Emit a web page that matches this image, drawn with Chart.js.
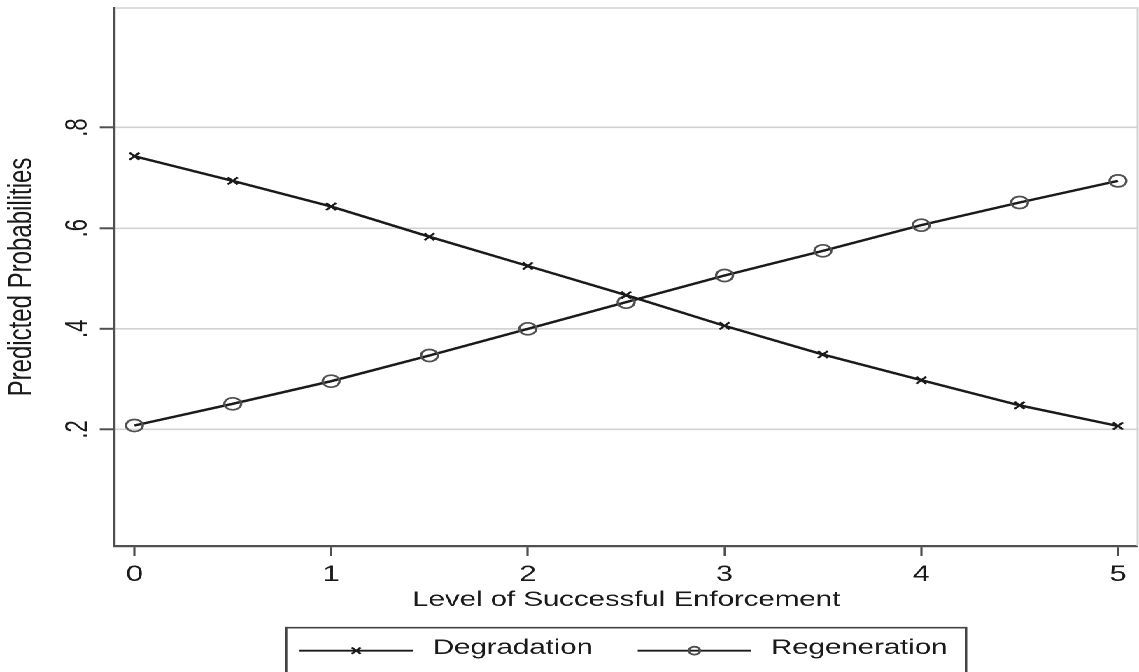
<!DOCTYPE html>
<html>
<head>
<meta charset="utf-8">
<script src="https://cdn.jsdelivr.net/npm/chart.js@4.4.1/dist/chart.umd.min.js"></script>
<style>
html, body { margin: 0; padding: 0; background: #ffffff; overflow: hidden; width: 1139px; height: 672px; }
#wrap { position: absolute; left: 0; top: 0; width: 814px; height: 672px; transform: scaleX(1.399263); transform-origin: 0 0; background: #ffffff; }
#c { display: block; width: 814px; height: 672px; }
</style>
</head>
<body>
<div id="wrap"><canvas id="c" width="814" height="672"></canvas></div>
<script>
// ---- data ----
const enforcementLevels = [0, 0.5, 1, 1.5, 2, 2.5, 3, 3.5, 4, 4.5, 5];
const degradation  = [0.743, 0.694, 0.643, 0.583, 0.525, 0.467, 0.406, 0.349, 0.298, 0.248, 0.207];
const regeneration = [0.208, 0.251, 0.296, 0.347, 0.400, 0.453, 0.506, 0.555, 0.606, 0.651, 0.694];
const seriesNames = ['Degradation', 'Regeneration'];
const xTickValues = [0, 1, 2, 3, 4, 5];
const xTickLabels = ['0', '1', '2', '3', '4', '5'];
const yTickValues = [0.2, 0.4, 0.6, 0.8];
const yTickLabels = ['.2', '.4', '.6', '.8'];
const xAxisTitle = 'Level of Successful Enforcement';
const yAxisTitle = 'Predicted Probabilities';

// ---- style ----
const FONT = '"Liberation Sans", Arial, Helvetica, sans-serif';
const INK = '#1a1a1a';
const AXIS = '#505050';
const GRID = '#d2d2d2';

const framePlugin = {
  id: 'frame',
  beforeDatasetsDraw(chart) {
    const { ctx, chartArea: a } = chart;
    ctx.save();
    ctx.strokeStyle = GRID;
    ctx.lineWidth = 1.5;
    ctx.beginPath();
    ctx.moveTo(a.left, a.top);
    ctx.lineTo(a.right, a.top);
    ctx.lineTo(a.right, a.bottom);
    ctx.stroke();
    ctx.restore();
  }
};

function drawMarker(ctx, style, radius, bw, x, y) {
  if (Chart.helpers && Chart.helpers.drawPoint) {
    Chart.helpers.drawPoint(ctx, { pointStyle: style, rotation: 0, radius: radius, borderWidth: bw }, x, y);
    return;
  }
  ctx.lineWidth = bw;
  ctx.beginPath();
  if (style === 'circle') {
    ctx.arc(x, y, radius, 0, Math.PI * 2);
  } else {
    const d = radius * Math.SQRT1_2;
    ctx.moveTo(x - d, y - d); ctx.lineTo(x + d, y + d);
    ctx.moveTo(x - d, y + d); ctx.lineTo(x + d, y - d);
  }
  ctx.stroke();
}

const boxLegendPlugin = {
  id: 'boxLegend',
  afterDraw(chart) {
    const { ctx, chartArea: a } = chart;
    const fontSize = 21;
    const lineLen = 81, lineGap = 14.3, padL = 9.5, padR = 13.3, itemGap = 32;
    ctx.save();
    ctx.font = fontSize + 'px ' + FONT;
    const items = chart.data.datasets.map(ds => ({ ds: ds, w: ctx.measureText(ds.label).width }));
    let total = padL + padR + itemGap * (items.length - 1);
    items.forEach(it => { total += lineLen + lineGap + it.w; });
    const cx = (a.left + a.right) / 2;
    const left = cx - total / 2;
    const top = chart.scales.x.bottom + 0.7;
    ctx.strokeStyle = '#444444';
    ctx.lineWidth = 1.6;
    ctx.beginPath();
    ctx.moveTo(left, chart.height + 5);
    ctx.lineTo(left, top);
    ctx.lineTo(left + total, top);
    ctx.lineTo(left + total, chart.height + 5);
    ctx.stroke();
    let x = left + padL;
    const ly = top + 23;
    const ty = top + 20.3;
    items.forEach((it) => {
      const ds = it.ds;
      ctx.strokeStyle = INK;
      ctx.lineWidth = 1.8;
      ctx.beginPath();
      ctx.moveTo(x, ly);
      ctx.lineTo(x + lineLen, ly);
      ctx.stroke();
      ctx.strokeStyle = ds.pointBorderColor;
      ctx.fillStyle = 'rgba(0,0,0,0)';
      drawMarker(ctx, ds.pointStyle, ds.pointStyle === 'circle' ? 4 : 4.5, 1.5, x + lineLen / 2, ly);
      ctx.fillStyle = INK;
      ctx.textBaseline = 'middle';
      ctx.textAlign = 'left';
      ctx.fillText(ds.label, x + lineLen + lineGap, ty);
      x += lineLen + lineGap + it.w + itemGap;
    });
    ctx.restore();
  }
};

const toPoints = (ys) => enforcementLevels.map((x, i) => ({ x: x, y: ys[i] }));

new Chart(document.getElementById('c'), {
  type: 'line',
  data: {
    datasets: [
      {
        label: seriesNames[0],
        data: toPoints(degradation),
        borderColor: INK,
        borderWidth: 2.4,
        tension: 0,
        fill: false,
        pointStyle: 'crossRot',
        pointRadius: 5,
        pointBorderWidth: 1.8,
        pointBorderColor: INK,
        pointBackgroundColor: INK
      },
      {
        label: seriesNames[1],
        data: toPoints(regeneration),
        borderColor: INK,
        borderWidth: 2.4,
        tension: 0,
        fill: false,
        pointStyle: 'circle',
        pointRadius: 6,
        pointBorderWidth: 1.7,
        pointBorderColor: '#505050',
        pointBackgroundColor: 'rgba(0,0,0,0)'
      }
    ]
  },
  options: {
    responsive: false,
    maintainAspectRatio: false,
    animation: false,
    devicePixelRatio: 2,
    layout: { autoPadding: false, padding: { top: 8, right: 1, bottom: 45, left: 0 } },
    plugins: {
      legend: { display: false },
      tooltip: { enabled: false }
    },
    scales: {
      x: {
        type: 'linear',
        min: -0.1,
        max: 5.1,
        afterBuildTicks: (s) => { s.ticks = xTickValues.map(v => ({ value: v })); },
        afterFit: (s) => { s.height = 81; s.paddingLeft = 0; s.paddingRight = 0; },
        grid: { drawOnChartArea: false, drawTicks: true, tickLength: 10, tickColor: AXIS, tickWidth: 1.6 },
        border: { display: true, color: AXIS, width: 2.2 },
        ticks: {
          color: INK,
          font: { family: FONT, size: 22 },
          padding: 5.8,
          maxRotation: 0,
          autoSkip: false,
          callback: (v, i) => xTickLabels[i]
        },
        title: {
          display: true,
          text: xAxisTitle,
          color: INK,
          font: { family: FONT, size: 21 },
          padding: { top: 0, bottom: 14.4 }
        }
      },
      y: {
        type: 'linear',
        min: -0.0315,
        max: 1.0375,
        afterBuildTicks: (s) => { s.ticks = yTickValues.map(v => ({ value: v })); },
        afterFit: (s) => { s.width = 82; s.paddingTop = 0; s.paddingBottom = 0; },
        grid: { color: GRID, lineWidth: 1.6, drawTicks: true, tickLength: 10.7, tickColor: AXIS, tickWidth: 2 },
        border: { display: true, color: AXIS, width: 1.6 },
        ticks: {
          color: INK,
          font: { family: FONT, size: 22 },
          padding: 6.4,
          minRotation: 90,
          maxRotation: 90,
          crossAlign: 'center',
          autoSkip: false,
          callback: (v, i) => yTickLabels[i]
        },
        title: {
          display: true,
          text: yAxisTitle,
          color: INK,
          font: { family: FONT, size: 24 },
          padding: { top: 1.3, bottom: 0 }
        }
      }
    }
  },
  plugins: [framePlugin, boxLegendPlugin]
});
</script>
</body>
</html>
